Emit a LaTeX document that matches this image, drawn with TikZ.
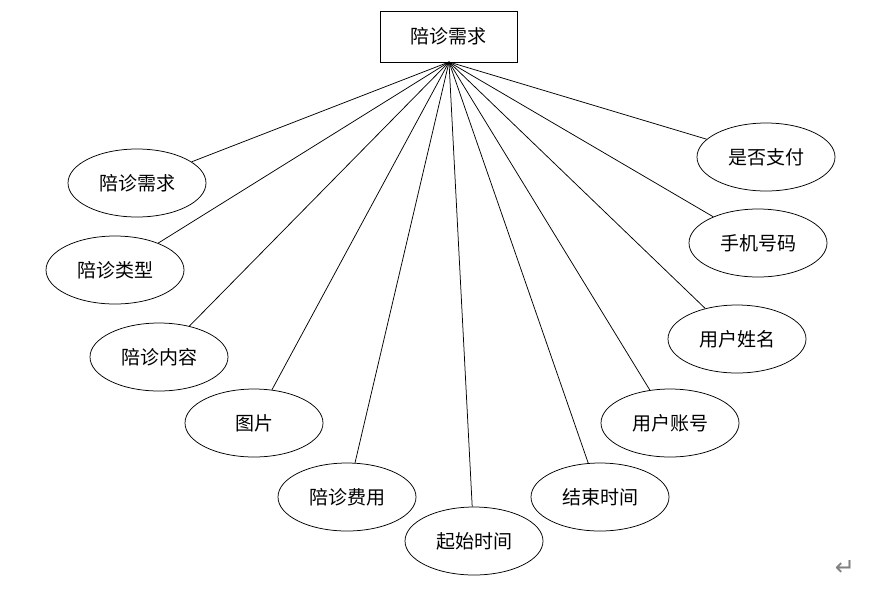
\documentclass[tikz,border=0pt]{standalone}
\usepackage{fontspec}
\newfontfamily\cjk{Noto Sans CJK SC}[FakeBold=0]
\newfontfamily\symfont{DejaVu Sans}
\usetikzlibrary{shapes.geometric}

\begin{document}
\begin{tikzpicture}[x=1pt,y=-1pt,line width=0.75pt,
  font=\cjk\fontsize{19}{22}\selectfont,
  entity/.style={draw,rectangle,minimum width=137pt,minimum height=51pt,inner sep=0pt},
  attr/.style={draw,ellipse,minimum width=138pt,minimum height=68pt,inner sep=0pt}]
  \useasboundingbox (0,0) rectangle (891,606);
  \node[entity] (need) at (448.5,36.5) {陪诊需求};
  \coordinate (hub) at (449,62);
  % attributes, left side
  \node[attr] (a1) at (137,183) {陪诊需求};
  \node[attr] (a2) at (115,270) {陪诊类型};
  \node[attr] (a3) at (159,357) {陪诊内容};
  \node[attr] (a4) at (254,423) {图片};
  \node[attr] (a5) at (347,497) {陪诊费用};
  \node[attr] (a6) at (474,541) {起始时间};
  % attributes, right side
  \node[attr] (a7) at (600,497) {结束时间};
  \node[attr] (a8) at (670,423) {用户账号};
  \node[attr] (a9) at (737,339) {用户姓名};
  \node[attr] (a10) at (758,243) {手机号码};
  \node[attr] (a11) at (766,157) {是否支付};
  \draw (hub)--(a1);
  \draw (hub)--(a2);
  \draw (hub)--(a3);
  \draw (hub)--(a4);
  \draw (hub)--(a5);
  \draw (hub)--(a6);
  \draw (hub)--(a7);
  \draw (hub)--(a8);
  \draw (hub)--(a9);
  \draw (hub)--(a10);
  \draw (hub)--(a11);
  \node[text=gray,font=\symfont\fontsize{24}{26}\selectfont] (mark) at (845,568) {↵};
\end{tikzpicture}
\end{document}
